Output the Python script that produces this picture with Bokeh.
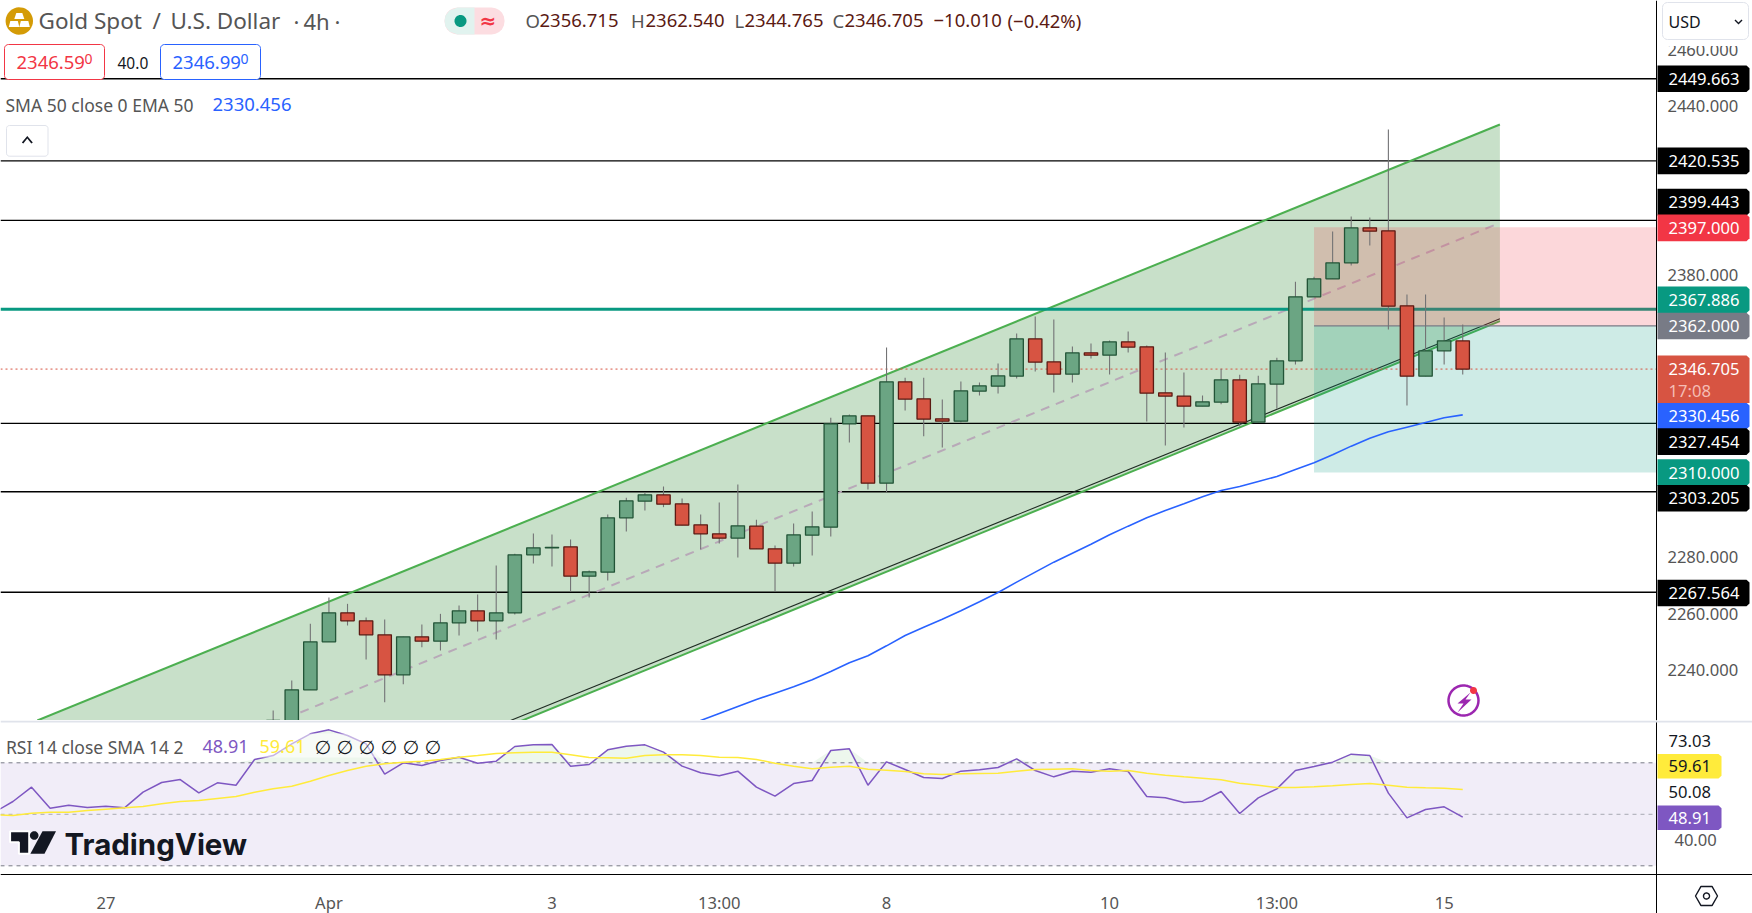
import numpy as np
from bokeh.embed import file_html
from bokeh.layouts import column
from bokeh.models import FixedTicker, Label, PolyAnnotation, Range1d
from bokeh.plotting import figure
from bokeh.resources import INLINE

FONT = "Noto Sans"

# candles, first one is bar -1 (bar 63 is the live one)
opens = [2205, 2216, 2232.96, 2249.98, 2260.27, 2257.43, 2252.47, 2238.28, 2251.76, 2250.22, 2256.72,
         2260.98, 2257.43, 2260.27, 2280.83, 2283.32, 2283.67, 2273.27, 2274.69, 2293.96, 2299.87,
         2302.11, 2298.92, 2291.47, 2288.28, 2286.74, 2291.01, 2282.97, 2277.89, 2287.81, 2290.65,
         2327.29, 2330.13, 2306.25, 2342.19, 2336.16, 2329.07, 2328.24, 2338.88, 2340.65, 2344.2,
         2357.44, 2349.28, 2344.91, 2352.47, 2351.64, 2356.37, 2354.6, 2338.29, 2337.11, 2333.56,
         2334.97, 2342.89, 2327.88, 2341.36, 2349.63, 2372.32, 2378.71, 2384.38, 2396.79, 2395.73,
         2369.13, 2344.19, 2353.18, 2356.715]
highs = [2225.6, 2236.27, 2256.37, 2265.7, 2263.46, 2258.61, 2257.9, 2251.76, 2256.13, 2259.91, 2262.87,
         2266.77, 2277.05, 2281.19, 2288.4, 2288.05, 2286.27, 2275.28, 2295.14, 2301.05, 2302.94,
         2305.07, 2300.81, 2295.14, 2299.39, 2305.78, 2293.25, 2284.15, 2291.95, 2296.21, 2329.42,
         2330.6, 2330.13, 2354.36, 2343.61, 2343.61, 2335.92, 2342.31, 2341.95, 2348.69, 2359.33,
         2365.36, 2364.29, 2354.72, 2355.78, 2356.85, 2360.04, 2355.07, 2352.59, 2345.5, 2337.34,
         2346.79, 2344.66, 2344.31, 2350.69, 2377.64, 2379.42, 2395.49, 2400.81, 2400.46, 2431.66,
         2373.15, 2373.15, 2365.0, 2362.54]
lows = [2200, 2213, 2232.96, 2249.98, 2255.78, 2243.72, 2228.59, 2234.97, 2248.09, 2246.91, 2252.23,
        2253.65, 2250.81, 2259.68, 2277.76, 2276.7, 2267.83, 2265.7, 2271.73, 2289.11, 2296.56,
        2297.74, 2291.35, 2282.73, 2284.85, 2279.89, 2282.97, 2267.84, 2276.7, 2280.6, 2287.34,
        2320.67, 2304.01, 2303.06, 2332.02, 2322.92, 2318.9, 2327.77, 2337.34, 2338.05, 2343.37,
        2345.85, 2338.41, 2341.95, 2350.46, 2344.79, 2352.59, 2328.12, 2319.61, 2325.99, 2333.56,
        2334.26, 2326.34, 2327.88, 2332.61, 2348.33, 2372.32, 2378.71, 2383.44, 2390.53, 2360.74,
        2333.79, 2344.19, 2348.33, 2344.765]
closes = [2216, 2232.96, 2249.98, 2260.27, 2257.43, 2252.47, 2238.28, 2251.76, 2250.22, 2256.72, 2260.98,
          2257.43, 2260.27, 2280.83, 2283.32, 2283.44, 2273.27, 2274.81, 2293.96, 2299.98, 2302.11,
          2298.8, 2291.35, 2288.28, 2286.74, 2291.12, 2282.97, 2277.89, 2287.93, 2290.77, 2327.3,
          2330.13, 2306.25, 2342.19, 2336.04, 2328.95, 2328.24, 2339.0, 2340.77, 2344.32, 2357.44,
          2349.16, 2344.91, 2352.47, 2351.64, 2356.37, 2354.48, 2338.17, 2337.11, 2333.56, 2335.1,
          2342.89, 2327.88, 2341.47, 2349.63, 2372.32, 2378.71, 2384.38, 2396.79, 2395.61, 2369.01,
          2344.19, 2353.18, 2356.72, 2346.705]

# EMA 50, starts at bar 21
ema_50 = [2219.6, 2222.1, 2224.58, 2227.06, 2229.54, 2231.79, 2234.03, 2236.52, 2239.47, 2242.54, 2245.03,
          2248.57, 2252.24, 2255.19, 2258.03, 2260.98, 2264.17, 2267.48, 2271.15, 2274.7, 2278.24,
          2281.43, 2284.62, 2287.93, 2291.01, 2293.96, 2296.56, 2298.93, 2301.41, 2303.66, 2305.07,
          2306.85, 2308.62, 2311.1, 2313.47, 2316.3, 2319.38, 2322.21, 2324.46, 2326.11, 2327.77,
          2329.42, 2330.456]

# RSI and its SMA, start at bar -16
rsi = [50.8, 54.97, 60.53, 52.38, 53.54, 52.64, 53.15, 52.51, 58.59, 62.35, 63.51, 58.33, 62.22, 61.31, 71.28,
       72.83, 77.36, 81.25, 82.8, 80.6, 77.36, 65.58, 69.98, 68.95, 70.89, 72.18, 69.85, 70.63, 76.33, 76.97,
       77.1, 68.69, 69.34, 75.04, 76.46, 76.98, 74.13, 68.7, 66.11, 64.94, 66.75, 60.54, 57.05, 61.96, 63.13,
       74.78, 75.43, 61.32, 70.38, 67.4, 64.29, 63.91, 66.75, 67.27, 68.18, 71.54, 67.01, 64.55, 66.75, 66.37,
       67.66, 66.62, 56.92, 56.4, 54.59, 55.1, 58.86, 50.31, 56.4, 59.89, 67.01, 68.57, 70.25, 73.36, 72.84,
       58.21, 48.63, 51.87, 52.9, 48.91]
rsi_sma = [49.79, 49.53, 50.44, 50.83, 50.83, 51.47, 51.99, 52.51, 53.03, 54.06, 54.97, 55.36, 56.13, 56.91, 58.59,
           59.89, 60.92, 62.86, 65.06, 67.0, 68.69, 69.59, 70.24, 70.63, 71.28, 72.18, 72.83, 73.61, 73.87, 74.13,
           74.13, 73.09, 72.05, 71.93, 71.8, 72.84, 73.1, 73.1, 72.84, 72.19, 72.06, 71.28, 69.86, 68.7, 67.66,
           68.31, 68.7, 67.53, 67.14, 66.62, 65.72, 65.46, 65.72, 65.85, 65.98, 66.75, 67.4, 67.53, 67.66, 67.01,
           66.75, 67.01, 65.98, 65.2, 64.55, 64.04, 63.39, 62.09, 61.32, 60.41, 60.41, 60.67, 61.06, 61.58, 61.96,
           61.32, 60.54, 60.28, 60.15, 59.61]

# horizontal levels
black_levels = [2449.663, 2420.535, 2399.443, 2327.454, 2303.205, 2267.564]
green_level = 2367.886
last_price = 2346.705

# parallel channel: [bar, price]
channel_upper = [[-13.69, 65], [2222.09, 2433.44]]
channel_lower = [[-13.69, 65], [2151.85, 2363.69]]
channel_mid = [[0.46, 65], [2224.93, 2398.56]]
trend_line = [[11.77, 65], [2222.09, 2364.54]]

# short position box
position_start = 55
position_stop = 2397
position_entry = 2362
position_target = 2310

# axis ticks
price_ticks = [2240, 2260, 2280, 2380, 2440, 2460]
time_ticks = [-10, 2, 14, 23, 32, 44, 53, 62]
time_labels = ["27", "Apr", "3", "13:00", "8", "10", "13:00", "15"]

# price scale tags: text, price where the tag sits, colour
tag_texts = ["2449.663", "2420.535", "2399.443", "2397.000", "2367.886", "2362.000", "2330.456", "2327.454",
             "2310.000", "2303.205", "2267.564"]
tag_prices = [2449.663, 2420.535, 2405.9, 2396.8, 2371.3, 2362.0, 2330.05, 2321.0, 2310.0, 2300.9, 2267.3]
tag_colors = ["#000000", "#000000", "#000000", "#F23645", "#089981", "#787B86", "#2962FF", "#000000",
              "#089981", "#000000", "#000000"]

# rsi scale texts
rsi_tag_texts = ["59.61", "48.91"]
rsi_tag_y = [68.68, 48.64]
rsi_tag_colors = ["#FFEB3B", "#7E57C2"]
rsi_tag_text_colors = ["#131722", "#FFFFFF"]
rsi_plain_texts = ["73.03", "50.08"]
rsi_plain_y = [78.66, 58.58]

bars = np.arange(-1, len(opens) - 1)
up = np.array(closes) >= np.array(opens)

# the frames fill the whole window, both scales sit inside them
x_left = -15.67
x_right = 78.59
scale_bar = 73.42
x_range = Range1d(x_left, x_right)


def add_text(fig, top, x, y, text, color="#555555", size=18.5, style="normal", font=FONT, **kw):
    fig.add_layout(Label(x=x, y=y - top, x_units="canvas", y_units="canvas", text=text,
                         text_color=color, text_font=font, text_font_size=f"{size}px",
                         text_font_style=style, text_baseline="middle", **kw))


def add_poly(fig, top, xs, ys, fill="#000000", alpha=1.0, line=None, width=1.0):
    fig.add_layout(PolyAnnotation(xs=list(xs), ys=[y - top for y in ys],
                                  xs_units="canvas", ys_units="canvas",
                                  fill_color=fill, fill_alpha=alpha,
                                  line_color=line, line_width=width,
                                  line_alpha=1.0 if line else 0.0))


def add_tag(fig, y, half, x1, color, corner):
    fig.add_layout(PolyAnnotation(xs=[1657, x1 - 3, x1, x1, x1 - 3, 1657],
                                  ys=[y + half, y + half, y + half - corner, y - half + corner, y - half, y - half],
                                  xs_units="canvas", ys_units="data", fill_color=color, fill_alpha=1, line_alpha=0))


def add_tag_text(fig, y, text, color):
    fig.add_layout(Label(x=1668, y=y, x_units="canvas", y_units="data", text=text, text_color=color,
                         text_font=FONT, text_font_size="16.6px", text_baseline="middle"))


def rounded(x0, y0, x1, y1, r):
    # outline of a rounded box, in canvas pixels
    a = np.linspace(0, np.pi / 2, 6)
    xs = np.concatenate([x1 - r + r * np.sin(a), x1 - r + r * np.cos(a), x0 + r - r * np.sin(a), x0 + r - r * np.cos(a)])
    ys = np.concatenate([y0 + r - r * np.cos(a), y1 - r + r * np.sin(a), y1 - r + r * np.cos(a), y0 + r - r * np.sin(a)])
    return list(xs), list(ys)


def ring(cx, cy, r):
    a = np.linspace(0, 2 * np.pi, 40)
    return list(cx + r * np.cos(a)), list(cy + r * np.sin(a))


def style_scale(axis):
    axis.major_tick_line_color = None
    axis.minor_tick_line_color = None
    axis.axis_line_color = "#000000"
    axis.major_label_text_color = "#555555"
    axis.major_label_text_font = FONT
    axis.major_label_text_font_size = "16.6px"


# ---------- price pane ----------
p = figure(width=1752, height=720, x_range=x_range, y_range=Range1d(2222.09, 2477.41),
           x_axis_location=None, y_axis_location="right", output_backend="svg", toolbar_location=None,
           min_border_left=0, min_border_right=0, min_border_top=0, min_border_bottom=0)
p.outline_line_color = None
p.grid.visible = False

p.yaxis.fixed_location = scale_bar
p.yaxis.ticker = FixedTicker(ticks=price_ticks)
p.yaxis.major_label_overrides = {t: f"{t}.000" for t in price_ticks}
p.yaxis.major_label_standoff = 5
style_scale(p.yaxis)

p.patch(channel_upper[0] + channel_lower[0][::-1], channel_upper[1] + channel_lower[1][::-1],
        fill_color="#388E3C", fill_alpha=0.28, line_color=None)
p.segment(x_left, black_levels, scale_bar, black_levels, line_color="#000000", line_width=1.3)
p.line(channel_mid[0], channel_mid[1], line_color="#B8A9B8", line_width=2, line_dash="9 7")
p.line(channel_upper[0], channel_upper[1], line_color="#4CAF50", line_width=2)
p.line(channel_lower[0], channel_lower[1], line_color="#4CAF50", line_width=2)
p.line(trend_line[0], trend_line[1], line_color="#1E2B22", line_width=1.1)
p.segment(x_left, green_level, scale_bar, green_level, line_color="#089981", line_width=3)

p.quad(left=position_start, right=scale_bar, top=position_stop, bottom=position_entry,
       fill_color="#F23645", fill_alpha=0.2, line_color=None)
p.quad(left=position_start, right=scale_bar, top=position_entry, bottom=position_target,
       fill_color="#089981", fill_alpha=0.2, line_color=None)
p.segment(position_start, position_entry, scale_bar, position_entry, line_color="#787B86", line_width=1.2)

p.segment(x_left, last_price, scale_bar, last_price, line_color="#D75442", line_width=1, line_dash="2 3")
p.line(np.arange(21, 21 + len(ema_50)), ema_50, line_color="#2962FF", line_width=1.6)

p.segment(bars, lows, bars, highs, line_color="#737375", line_width=1.1)
body_low = np.minimum(opens, closes)
body_high = np.maximum(opens, closes)
p.vbar(bars[up], 0.72, body_low[up], body_high[up], fill_color="#6BA583", line_color="#225437", line_width=1.3)
p.vbar(bars[~up], 0.72, body_low[~up], body_high[~up], fill_color="#D75442", line_color="#5B1A13", line_width=1.3)

# legend block, top left
xs, ys = ring(18.8, 20.5, 13.7)
add_poly(p, 0, xs, ys, fill="#D49B06")
add_poly(p, 0, [15.8, 21.8, 23.8, 13.8], [12.5, 12.5, 18.5, 18.5], fill="#FFFFFF")
add_poly(p, 0, [9.8, 17.3, 18.8, 8.3], [20.5, 20.5, 26.5, 26.5], fill="#FFFFFF")
add_poly(p, 0, [20.3, 27.8, 29.3, 18.8], [20.5, 20.5, 26.5, 26.5], fill="#FFFFFF")
add_text(p, 0, 38, 20, "Gold Spot", size=22.5)
add_text(p, 0, 152, 20, "/", size=22.5)
add_text(p, 0, 170, 20, "U.S. Dollar", size=22.5)
add_text(p, 0, 293, 20, "·", size=22)
add_text(p, 0, 303, 20, "4h", size=22)
add_text(p, 0, 334, 20, "·", size=22)

xs, ys = rounded(444, 7, 504, 34, 13)
add_poly(p, 0, xs, ys, fill="#FCDDE1")
add_poly(p, 0, [474, 474, 457, 449, 445, 444, 445, 449, 457], [7, 34, 34, 31, 26, 20.5, 15, 10, 7], fill="#E1F3EF")
xs, ys = ring(460, 20.5, 6)
add_poly(p, 0, xs, ys, fill="#089981")
add_text(p, 0, 479, 20, "≈", color="#F23645", size=20, style="bold", font="DejaVu Sans")

ohlc_x = [525, 539, 630.5, 645, 734, 744, 832, 844]
ohlc_texts = ["O", "2356.715", "H", "2362.540", "L", "2344.765", "C", "2346.705"]
for x, t in zip(ohlc_x, ohlc_texts):
    add_text(p, 0, x, 20, t, color="#5B1A13" if len(t) > 1 else "#555555")
add_text(p, 0, 933, 20, "−10.010", color="#5B1A13")
add_text(p, 0, 1007, 20, "(−0.42%)", color="#5B1A13")

xs, ys = rounded(4, 44, 104, 79, 4)
add_poly(p, 0, xs, ys, fill="#FFFFFF", line="#F23645")
add_text(p, 0, 16, 62, "2346.59", color="#F23645")
add_text(p, 0, 84, 58, "0", color="#F23645", size=14)
add_text(p, 0, 117, 62, "40.0", color="#131722", size=15.5)
xs, ys = rounded(160, 44, 260, 79, 4)
add_poly(p, 0, xs, ys, fill="#FFFFFF", line="#2962FF")
add_text(p, 0, 172, 62, "2346.99", color="#2962FF")
add_text(p, 0, 240, 58, "0", color="#2962FF", size=14)

add_text(p, 0, 5, 104, "SMA 50 close 0 EMA 50", size=17.5)
add_text(p, 0, 212, 104, "2330.456", color="#2962FF")

xs, ys = rounded(6, 125, 47.5, 155.7, 3)
add_poly(p, 0, xs, ys, fill="#FFFFFF", line="#E0E3EB")
add_poly(p, 0, [26.8, 32.3, 30.8, 26.8, 22.8, 21.3], [135.5, 142, 143, 138, 143, 142], fill="#131722")

# bolt icon
xs, ys = ring(1463, 700, 15)
add_poly(p, 0, xs, ys, fill="#FFFFFF", alpha=0.0, line="#9C27B0", width=2.5)
add_poly(p, 0, [1470, 1457, 1463, 1457, 1471, 1465], [692, 703, 703, 712, 699, 699], fill="#9C27B0")
xs, ys = ring(1473, 690, 3.5)
add_poly(p, 0, xs, ys, fill="#F23645")

# price scale tags
for text, price, color in zip(tag_texts, tag_prices, tag_colors):
    add_tag(p, price, 4.72, 1749, color, 1)
    add_tag_text(p, price, text, "#FFFFFF")
# last price tag has a countdown under it
p.add_layout(PolyAnnotation(xs=[1657, 1746, 1749, 1749, 1746, 1657],
                            ys=[last_price + 4.82, last_price + 4.82, last_price + 3.8, last_price - 12.06, last_price - 12.06, last_price - 12.06],
                            xs_units="canvas", ys_units="data", fill_color="#D75442", fill_alpha=1, line_alpha=0))
add_tag_text(p, last_price, "2346.705", "#FFFFFF")
add_tag_text(p, last_price - 7.5, "17:08", "#F5BDB5")

# currency box over the top of the scale
add_poly(p, 0, [1657, 1752, 1752, 1657], [0, 0, 45.5, 45.5], fill="#FFFFFF")
xs, ys = rounded(1662, 2, 1748, 39, 5)
add_poly(p, 0, xs, ys, fill="#FFFFFF", line="#E0E3EB")
add_text(p, 0, 1668, 21, "USD", color="#131722", size=16)
add_poly(p, 0, [1734, 1735, 1738, 1741, 1742, 1738], [20, 19, 22, 19, 20, 24], fill="#131722")

# ---------- rsi pane ----------
r = figure(width=1752, height=193, x_range=x_range, y_range=Range1d(11.48, 86.43),
           x_axis_location="below", y_axis_location="right", output_backend="svg", toolbar_location=None,
           min_border_left=0, min_border_right=0, min_border_top=0, min_border_bottom=0)
r.outline_line_color = None
r.grid.visible = False

r.xaxis.fixed_location = 26.62
r.xaxis.ticker = FixedTicker(ticks=time_ticks)
r.xaxis.major_label_overrides = dict(zip(time_ticks, time_labels))
r.xaxis.major_label_standoff = 10
style_scale(r.xaxis)

r.yaxis.fixed_location = scale_bar
r.yaxis.ticker = FixedTicker(ticks=[40])
r.yaxis.major_label_overrides = {40: "40.00"}
r.yaxis.major_label_standoff = 12
style_scale(r.yaxis)

rsi_bars = np.arange(-16, -16 + len(rsi))
r.quad(left=x_left, right=scale_bar, top=70, bottom=30, fill_color="#7E57C2", fill_alpha=0.11, line_color=None)
r.varea(rsi_bars, np.full(len(rsi), 70.0), np.maximum(rsi, 70.0), fill_color="#4CAF50", fill_alpha=0.1)
r.segment(x_left, [70, 30], scale_bar, [70, 30], line_color="#787B86", line_width=1, line_dash="4 4")
r.segment(x_left, 50, scale_bar, 50, line_color="#787B86", line_alpha=0.6, line_width=1, line_dash="4 4")
r.line(rsi_bars, rsi, line_color="#7E57C2", line_width=1.5)
r.line(rsi_bars, rsi_sma, line_color="#FFEB3B", line_width=1.5)

# legend row, faded band under it
add_poly(r, 720, [0, 445, 445, 0], [733, 733, 757, 757], fill="#FFFFFF", alpha=0.55)
add_text(r, 720, 5.4, 746, "RSI 14 close SMA 14 2", size=17.5)
add_text(r, 720, 202, 746, "48.91", color="#7E57C2", size=18)
add_text(r, 720, 259, 746, "59.61", color="#FFEB3B", size=18)
for x in [314, 336, 358, 380, 402, 424]:
    add_text(r, 720, x, 746, "∅", color="#131722", size=19, font="DejaVu Sans")

# logo
add_poly(r, 720, [9.6, 28.7, 28.7, 18.4, 18.4, 9.6], [830.7, 830.7, 853.3, 853.3, 841.7, 841.7], fill="#131722", line="#FFFFFF", width=2)
xs, ys = ring(33.7, 835, 4.3)
add_poly(r, 720, xs, ys, fill="#131722")
add_poly(r, 720, [42, 55.5, 44, 29.9], [830.7, 830.7, 853.3, 853.3], fill="#131722")
add_text(r, 720, 64, 843, "TradingView", color="#131722", size=29.5, style="bold", font="Inter")

# scale tags
for text, y, color, text_color in zip(rsi_tag_texts, rsi_tag_y, rsi_tag_colors, rsi_tag_text_colors):
    add_tag(r, y, 4.74, 1721, color, 1)
    add_tag_text(r, y, text, text_color)
for text, y in zip(rsi_plain_texts, rsi_plain_y):
    add_tag_text(r, y, text, "#131722")

# pane separator
add_poly(r, 720, [0, 1752, 1752, 0], [720, 720, 722, 722], fill="#E0E3EB")
a = np.pi / 2 + np.arange(6) * np.pi / 3
add_poly(r, 720, list(1706 + 11 * np.sin(a)), list(895.5 + 11 * np.cos(a)),
         fill="#FFFFFF", line="#131722", width=1.4)
xs, ys = ring(1706, 895.5, 3)
add_poly(r, 720, xs, ys, fill="#FFFFFF", line="#131722", width=1.4)

layout = column(p, r, spacing=0)
open("out.html", "w").write(file_html(layout, INLINE))
